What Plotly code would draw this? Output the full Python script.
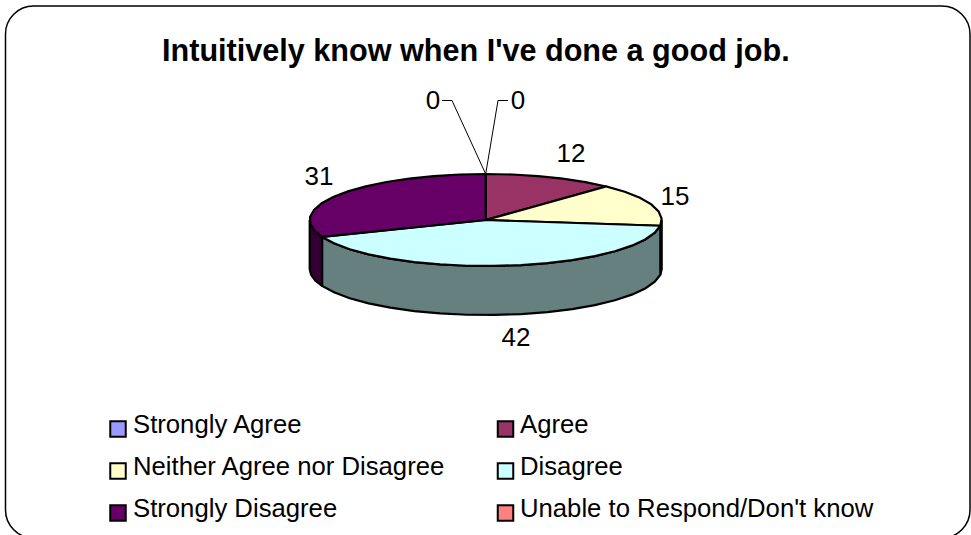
import math
import plotly.graph_objects as go

TITLE = "Intuitively know when I've done a good job."
categories = ["Strongly Agree", "Agree", "Neither Agree nor Disagree",
              "Disagree", "Strongly Disagree", "Unable to Respond/Don't know"]
values = [0, 12, 15, 42, 31, 0]
colors = ["#9999FF", "#993366", "#FFFFCC", "#CCFFFF", "#660066", "#FF8080"]
side_colors = ["#4C4C80", "#4C1933", "#808066", "#668080", "#330033", "#804040"]

# Layout (pixel space of the 971x535 page)
CX, CY, RX, RY, DEPTH = 485.7, 220.0, 176.0, 46.0, 49.0
STEP = 9.0
LABEL_POS = [(433, 102), (571, 155), (675, 198), (516, 339), (319, 178), (518, 102)]
LEADERS = {0: (452, 442), 5: (498, 508)}
LEADER_Y = 100.5
LEG_SWATCH_X = [118, 505.5]
LEG_TEXT_X = [133, 520]
LEG_SWATCH_Y = [429, 471, 513]
LEG_TEXT_Y = [427, 469, 511]
FONT = "Liberation Sans, Arial, sans-serif"


def pt(a, dy=0.0):
    r = math.radians(a)
    return CX + RX * math.sin(r), CY - RY * math.cos(r) + dy


def arc(a0, a1, dy=0.0):
    n = max(1, int(math.ceil(abs(a1 - a0) / STEP)))
    return [pt(a0 + (a1 - a0) * i / n, dy) for i in range(n + 1)]


def poly(points, fill, name):
    return go.Scatter(
        x=[p[0] for p in points] + [points[0][0]],
        y=[p[1] for p in points] + [points[0][1]],
        mode="lines", fill="toself", fillcolor=fill,
        line=dict(color="#000000", width=2.2),
        hoverinfo="skip", showlegend=False, name=name,
    )


total = sum(values)
angles = []
run = 0.0
for v in values:
    angles.append((run, run + v / total * 360.0))
    run += v / total * 360.0

fig = go.Figure()

# visible rim: the front half of the disc
for i, (a0, a1) in enumerate(angles):
    lo, hi = max(a0, 90.0), min(a1, 270.0)
    if hi > lo:
        fig.add_trace(poly(arc(lo, hi) + arc(hi, lo, DEPTH), side_colors[i], categories[i] + " side"))

# top faces
for i, (a0, a1) in enumerate(angles):
    if a1 > a0:
        fig.add_trace(poly([(CX, CY)] + arc(a0, a1), colors[i], categories[i]))

# leader lines of the zero slices
for i, (x1, x2) in LEADERS.items():
    ax, ay = pt(angles[i][0])
    fig.add_trace(go.Scatter(x=[ax, x1, x2], y=[ay, LEADER_Y, LEADER_Y], mode="lines",
                             line=dict(color="#000000", width=1),
                             hoverinfo="skip", showlegend=False))

# data labels
fig.add_trace(go.Scatter(
    x=[p[0] for p in LABEL_POS], y=[p[1] for p in LABEL_POS],
    text=[str(v) for v in values], mode="text", textposition="middle center",
    textfont=dict(family=FONT, size=26, color="#000000"),
    hoverinfo="skip", showlegend=False))

# legend grid
for i, c in enumerate(categories):
    col, row = i % 2, i // 2
    fig.add_trace(go.Scatter(
        x=[LEG_SWATCH_X[col]], y=[LEG_SWATCH_Y[row]], mode="markers",
        marker=dict(symbol="square", size=15.5, color=colors[i], line=dict(color="#000000", width=2)),
        hoverinfo="skip", showlegend=False))
    fig.add_trace(go.Scatter(
        x=[LEG_TEXT_X[col]], y=[LEG_TEXT_Y[row]], mode="text", text=[c],
        textposition="middle right", textfont=dict(family=FONT, size=25.7, color="#000000"),
        hoverinfo="skip", showlegend=False))

fig.add_annotation(x=476, y=50, text="<b>%s</b>" % TITLE, showarrow=False,
                   font=dict(family=FONT, size=30.6, color="#000000"))

# rounded frame
L, T, R, B, C = 5.5, 6.0, 970.0, 538.0, 28.0
K = 0.45 * C
frame = (f"M {L+C} {T} L {R-C} {T} C {R-K} {T} {R} {T+K} {R} {T+C} "
         f"L {R} {B-C} C {R} {B-K} {R-K} {B} {R-C} {B} "
         f"L {L+C} {B} C {L+K} {B} {L} {B-K} {L} {B-C} "
         f"L {L} {T+C} C {L} {T+K} {L+K} {T} {L+C} {T} Z")
fig.add_shape(type="path", path=frame, line=dict(color="#000000", width=1.5), layer="below")

fig.update_layout(
    width=971, height=535, autosize=False,
    margin=dict(l=0, r=0, t=0, b=0),
    paper_bgcolor="#FFFFFF", plot_bgcolor="#FFFFFF",
    showlegend=False, hovermode=False,
    xaxis=dict(range=[0, 971], visible=False, fixedrange=True),
    yaxis=dict(range=[535, 0], visible=False, fixedrange=True),
)
fig.write_html("out.html", config={"displayModeBar": False, "responsive": False},
               post_script="document.body.style.margin='0';document.body.style.overflow='hidden';")
